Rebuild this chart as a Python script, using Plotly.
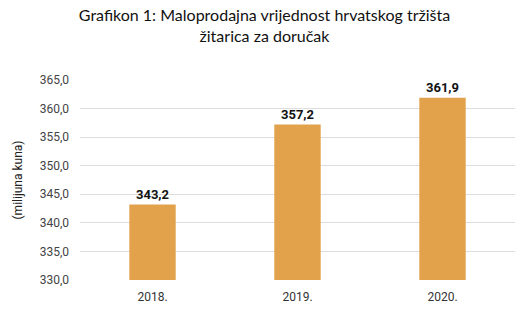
import plotly.graph_objects as go

categories = ["2018.", "2019.", "2020."]
values = [343.2, 357.2, 361.9]
axis_base = 330
tick_vals = [330, 335, 340, 345, 350, 355, 360, 365]
tick_text = ["330,0", "335,0", "340,0", "345,0", "350,0", "355,0", "360,0", "365,0"]
labels = [f"{v:.1f}".replace(".", ",") for v in values]

fig = go.Figure(go.Bar(
    x=categories, y=[v - axis_base for v in values], base=axis_base,
    marker=dict(color="#E2A14B", line=dict(width=0)),
    text=labels, textposition="outside",
    textfont=dict(family="Roboto, Arial", size=13, color="#111111"),
    texttemplate="<b>%{text}</b>", cliponaxis=False, width=0.32,
))

fig.update_layout(
    width=529, height=325,
    margin=dict(l=80, r=14, t=80, b=45),
    paper_bgcolor="white", plot_bgcolor="white",
    title=dict(text="Grafikon 1: Maloprodajna vrijednost hrvatskog tržišta<br>žitarica za doručak",
               x=0.5, xanchor="center", yref="container", y=0.935, yanchor="top",
               font=dict(family="Lato, Roboto, Arial", size=16, color="#111111")),
    showlegend=False,
)
fig.update_yaxes(range=[330, 365], tickvals=tick_vals, ticktext=tick_text,
                 showgrid=True, gridcolor="#DDDDDD", gridwidth=1, zeroline=False,
                 tickfont=dict(family="Roboto, Arial", size=12, color="#444444"),
                 ticks="", ticklabelstandoff=10,
                 title=dict(text="(milijuna kuna)", standoff=14,
                            font=dict(family="Roboto, Arial", size=12, color="#222222")))
fig.update_xaxes(tickfont=dict(family="Roboto, Arial", size=12, color="#333333"),
                 showline=False, ticks="", ticklabelstandoff=8)

fig.write_html("out.html")
